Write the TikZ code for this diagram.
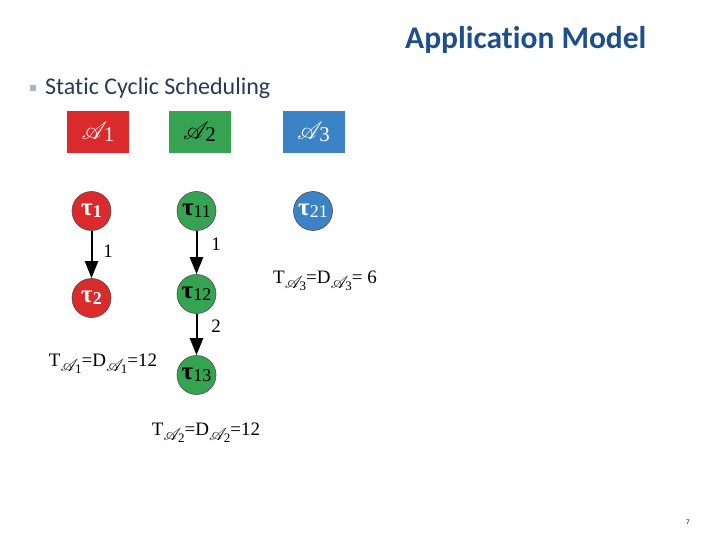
\documentclass[tikz,border=0pt]{standalone}
\usepackage{amsmath}
\usepackage{mathrsfs}
\usepackage{graphicx}
\usepackage{fontspec}
\setmainfont{Liberation Serif}
\newfontfamily\calibri[Ligatures=NoCommon]{Carlito}
\usetikzlibrary{arrows.meta}
\definecolor{cred}{HTML}{DB2A2B}
\definecolor{cgreen}{HTML}{35A352}
\definecolor{cblue}{HTML}{3C82C6}
\definecolor{ctitle}{HTML}{1F4E8C}
\definecolor{csub}{HTML}{243B5E}
\definecolor{cbullet}{HTML}{A8B8D0}
\newcommand\boxA[1]{{\fontsize{32}{34}\selectfont$\mathscr{A}$}\kern-3.5pt\raisebox{-0.45ex}{\fontsize{21}{23}\selectfont #1}}
\newcommand\tsk[1]{{\bfseries\fontsize{25}{27}\selectfont τ}\raisebox{-0.35ex}{\fontsize{18}{20}\selectfont #1}}
\newcommand\tskb[1]{{\bfseries\fontsize{25}{27}\selectfont τ}\raisebox{-0.35ex}{\bfseries\fontsize{18}{20}\selectfont #1}}
\newcommand\subA[1]{\raisebox{-0.55ex}{\fontsize{19}{21}\selectfont$\mathscr{A}$\kern-3pt\raisebox{-0.3ex}{\fontsize{13}{15}\selectfont #1}}}
\tikzset{
  appbox/.style={minimum width=62pt,minimum height=42pt,inner sep=0pt},
  task/.style={circle,minimum size=39pt,inner sep=0pt,draw=black!70,line width=0.6pt},
  edge/.style={line width=2pt,-{Triangle[length=17pt,width=13pt]}},
  elabel/.style={font=\fontsize{19}{21}\selectfont},
  period/.style={font=\fontsize{19}{21}\selectfont,inner sep=0pt},
}
\begin{document}
\begin{tikzpicture}[x=1pt,y=-1pt]
\useasboundingbox (0,0) rectangle (720,540);
\fill[white] (0,0) rectangle (720,540);
% headings
\node[anchor=west,inner sep=0pt,text=ctitle,font=\calibri\bfseries\fontsize{31.5}{33}\selectfont] (title) at (405,40) {Application Model};
\node[fill=cbullet,minimum size=6pt,inner sep=0pt] (bullet) at (33,88) {};
\node[anchor=west,inner sep=0pt,text=csub,font=\calibri\fontsize{24}{26}\selectfont] (sub) at (45,88) {Static Cyclic Scheduling};
% application boxes
\node[appbox,fill=cred,text=white] (A1) at (98,132) {\boxA{1}};
\node[appbox,fill=cgreen,text=black] (A2) at (199.5,132) {\boxA{2}};
\node[appbox,fill=cblue,text=white] (A3) at (313.5,132) {\boxA{3}};
% tasks
\node[task,fill=cred,text=white] (t1) at (91.5,211) {\tskb{1}};
\node[task,fill=cred,text=white] (t2) at (91.5,298) {\tskb{2}};
\node[task,fill=cgreen,text=black] (t11) at (196.5,211) {\tsk{11}};
\node[task,fill=cgreen,text=black] (t12) at (196.5,294) {\tsk{12}};
\node[task,fill=cgreen,text=black] (t13) at (196.5,375) {\tsk{13}};
\node[task,fill=cblue,text=white] (t21) at (313,211) {\tsk{21}};
% edges
\draw[edge] (t1) -- (t2);
\draw[edge] (t11) -- (t12);
\draw[edge] (t12) -- (t13);
\node[elabel] (l1) at (108,251) {1};
\node[elabel] (l2) at (216,244) {1};
\node[elabel] (l3) at (216,326) {2};
% periods
\node[period] (p3) at (325,281) {T\subA{3}=D\subA{3}= 6};
\node[period] (p1) at (103,364) {T\subA{1}=D\subA{1}=12};
\node[period] (p2) at (206,433) {T\subA{2}=D\subA{2}=12};
% page number
\node[font=\calibri\fontsize{7}{8}\selectfont] (pg) at (688,522) {7};
\end{tikzpicture}
\end{document}
